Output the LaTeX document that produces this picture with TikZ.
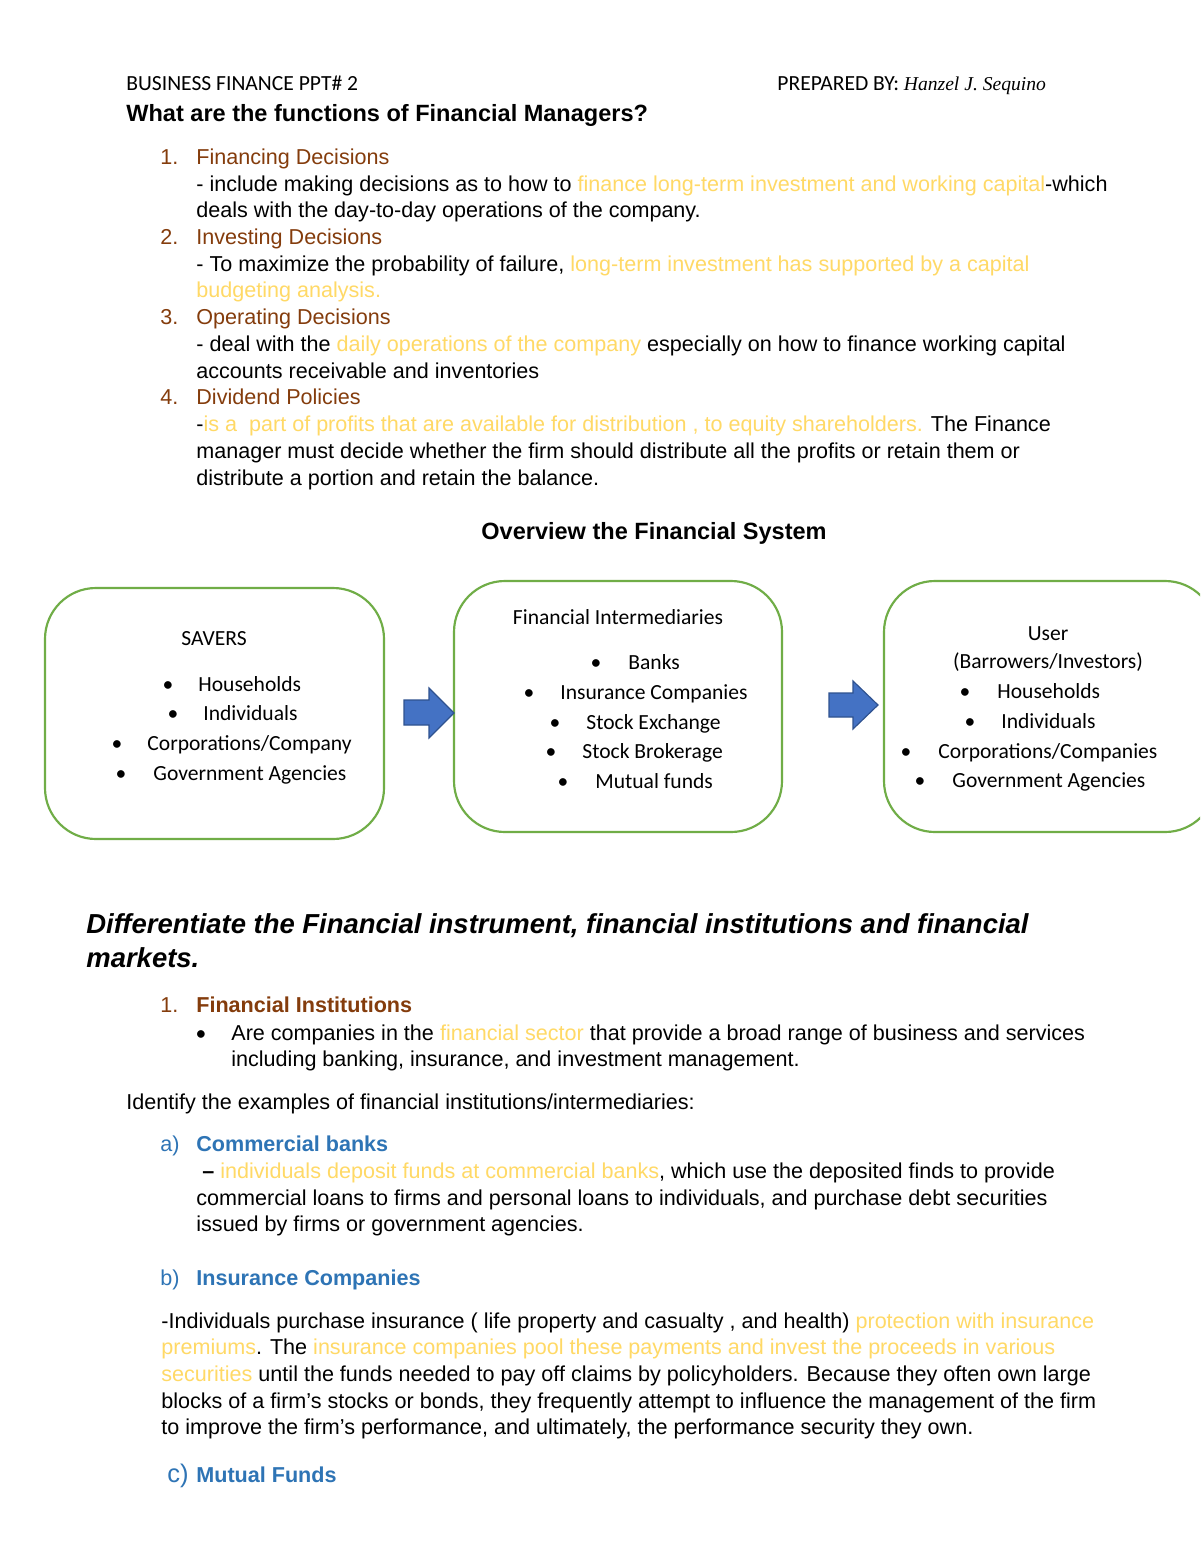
\documentclass[tikz,border=0pt]{standalone}
\usepackage{fontspec}
\setmainfont{Liberation Sans}
\newfontfamily\calib{Carlito}
\newfontfamily\scriptfam{Liberation Serif}
\definecolor{brn}{HTML}{843C0C}
\definecolor{hl}{HTML}{FFD966}
\definecolor{blu}{HTML}{2E74B5}
\definecolor{grn}{HTML}{70AD47}
\definecolor{arfill}{HTML}{4472C4}
\definecolor{arline}{HTML}{2F528F}
\begin{document}
\begin{tikzpicture}[x=0.51pt,y=-0.51pt,
  txt/.style={anchor=base west,inner sep=0pt,yshift=-1pt,font=\fontsize{11}{13}\selectfont},
  ctxt/.style={anchor=base,inner sep=0pt,yshift=-1pt,font=\fontsize{11}{13}\selectfont},
  btxt/.style={anchor=base west,inner sep=0pt,yshift=-0.7pt,font=\calib\fontsize{11}{13}\selectfont},
  bctr/.style={anchor=base,inner sep=0pt,yshift=-0.7pt,font=\calib\fontsize{11}{13}\selectfont},
  bul/.style={anchor=base,inner sep=0pt,yshift=-0.7pt,font=\calib\fontsize{11}{13}\selectfont},
  fbox/.style={draw=grn,line width=1.1pt,rounded corners=26pt,fill=white},
  blockarrow/.style={fill=arfill,draw=arline,line width=0.6pt}]
\useasboundingbox[fill=white] (0,0) rectangle (1200,1553);
% header
\node[btxt] (hdrl) at (126,89) {BUSINESS FINANCE PPT\# 2};
\node[btxt] (hdrr) at (777,89) {PREPARED BY: {\scriptfam\itshape\fontsize{10}{12}\selectfont Hanzel J. Sequino}};
\node[txt,font=\bfseries\fontsize{12}{14}\selectfont] (q1) at (126,120) {What are the functions of Financial Managers?};
% list 1
\node[txt,text=brn] (n1) at (160,163) {1.};
\node[txt,text=brn] (h1) at (196,163) {Financing Decisions};
\node[txt] (l1) at (196,190) {- include making decisions as to how to \textcolor{hl}{finance long-term investment and working capital}-which};
\node[txt] (l2) at (196,216) {deals with the day-to-day operations of the company.};
\node[txt,text=brn] (n2) at (160,243) {2.};
\node[txt,text=brn] (h2) at (196,243) {Investing Decisions};
\node[txt] (l3) at (196,270) {- To maximize the probability of failure, \textcolor{hl}{long-term investment has supported by a capital}};
\node[txt,text=hl] (l4) at (196,296) {budgeting analysis.};
\node[txt,text=brn] (n3) at (160,323) {3.};
\node[txt,text=brn] (h3) at (196,323) {Operating Decisions};
\node[txt] (l5) at (196,350) {- deal with the \textcolor{hl}{daily operations of the company} especially on how to finance working capital};
\node[txt] (l6) at (196,377) {accounts receivable and inventories};
\node[txt,text=brn] (n4) at (160,403) {4.};
\node[txt,text=brn] (h4) at (196,403) {Dividend Policies};
\node[txt] (l7) at (196,430) {-\textcolor{hl}{is a\ \ part of profits that are available for distribution , to equity shareholders.} The Finance};
\node[txt] (l8) at (196,457) {manager must decide whether the firm should distribute all the profits or retain them or};
\node[txt] (l9) at (196,484) {distribute a portion and retain the balance.};
\node[ctxt,font=\bfseries\fontsize{12}{14}\selectfont] (ov) at (654,538) {Overview the Financial System};
% boxes
\begin{scope}
\clip (0,0) rectangle (1200,1553);
\draw[fbox] (45,588) rectangle (384,839);
\draw[fbox] (454,581) rectangle (782,832);
\draw[fbox] (884,581) rectangle (1216,832);
\end{scope}
\node[bctr] (sv) at (214,644) {SAVERS};
\node[bul] (sb1) at (168,690) {\textbullet};
\node[btxt] (s1) at (198,690) {Households};
\node[bul] (sb2) at (173,719) {\textbullet};
\node[btxt] (s2) at (203,719) {Individuals};
\node[bul] (sb3) at (117,749) {\textbullet};
\node[btxt] (s3) at (147,749) {Corporations/Company};
\node[bul] (sb4) at (121,779) {\textbullet};
\node[btxt] (s4) at (153,779) {Government Agencies};
\node[bctr] (fi) at (618,623) {Financial Intermediaries};
\node[bul] (fb1) at (596,668) {\textbullet};
\node[btxt] (f1) at (628,668) {Banks};
\node[bul] (fb2) at (529,698) {\textbullet};
\node[btxt] (f2) at (560,698) {Insurance Companies};
\node[bul] (fb3) at (555,728) {\textbullet};
\node[btxt] (f3) at (586,728) {Stock Exchange};
\node[bul] (fb4) at (551,757) {\textbullet};
\node[btxt] (f4) at (582,757) {Stock Brokerage};
\node[bul] (fb5) at (563,787) {\textbullet};
\node[btxt] (f5) at (595,787) {Mutual funds};
\node[bctr] (us) at (1048,639) {User};
\node[bctr] (us2) at (1048,667) {(Barrowers/Investors)};
\node[bul] (ub1) at (965,697) {\textbullet};
\node[btxt] (u1) at (997,697) {Households};
\node[bul] (ub2) at (970,727) {\textbullet};
\node[btxt] (u2) at (1001,727) {Individuals};
\node[bul] (ub3) at (906,757) {\textbullet};
\node[btxt] (u3) at (938,757) {Corporations/Companies};
\node[bul] (ub4) at (920,786) {\textbullet};
\node[btxt] (u4) at (952,786) {Government Agencies};
% block arrows
\filldraw[blockarrow] (404,700) -- (429,700) -- (429,688) -- (454,713) -- (429,738) -- (429,725) -- (404,725) -- cycle;
\filldraw[blockarrow] (829,693) -- (853,693) -- (853,681) -- (878,705) -- (853,729) -- (853,717) -- (829,717) -- cycle;
% section 2
\node[txt,font=\bfseries\itshape\fontsize{14}{16}\selectfont] (d1) at (86,932) {Differentiate the Financial instrument, financial institutions and financial};
\node[txt,font=\bfseries\itshape\fontsize{14}{16}\selectfont] (d2) at (86,966) {markets.};
\node[txt,text=brn] (m1) at (160,1011) {1.};
\node[txt,text=brn,font=\bfseries\fontsize{11}{13}\selectfont] (fin) at (196,1011) {Financial Institutions};
\node[bul] (fbul) at (201,1039) {\textbullet};
\node[txt] (k1) at (231,1039) {Are companies in the \textcolor{hl}{financial sector} that provide a broad range of business and services};
\node[txt] (k2) at (231,1065) {including banking, insurance, and investment management.};
\node[txt] (id) at (126,1108) {Identify the examples of financial institutions/intermediaries:};
\node[txt,text=blu] (a) at (160,1150) {a)};
\node[txt,text=blu,font=\bfseries\fontsize{11}{13}\selectfont] (cb) at (196,1150) {Commercial banks};
\node[txt] (c1) at (196,1177) {\ \textbf{--} \textcolor{hl}{individuals deposit funds at commercial banks}, which use the deposited finds to provide};
\node[txt] (c2) at (196,1204) {commercial loans to firms and personal loans to individuals, and purchase debt securities};
\node[txt] (c3) at (196,1230) {issued by firms or government agencies.};
\node[txt,text=blu] (b) at (160,1284) {b)};
\node[txt,text=blu,font=\bfseries\fontsize{11}{13}\selectfont] (ic) at (196,1284) {Insurance Companies};
\node[txt] (i1) at (161,1327) {-Individuals purchase insurance ( life property and casualty , and health) \textcolor{hl}{protection with insurance}};
\node[txt] (i2) at (161,1353) {\textcolor{hl}{premiums}. The \textcolor{hl}{insurance companies pool these payments and invest the proceeds in various}};
\node[txt] (i3) at (161,1380) {\textcolor{hl}{securities} until the funds needed to pay off claims by policyholders. Because they often own large};
\node[txt] (i4) at (161,1407) {blocks of a firm’s stocks or bonds, they frequently attempt to influence the management of the firm};
\node[txt] (i5) at (161,1433) {to improve the firm’s performance, and ultimately, the performance security they own.};
\node[txt,text=blu,font=\fontsize{13}{15}\selectfont] (c) at (167,1481) {c)};
\node[txt,text=blu,font=\bfseries\fontsize{11}{13}\selectfont] (mf) at (196,1481) {Mutual Funds};
\end{tikzpicture}
\end{document}
